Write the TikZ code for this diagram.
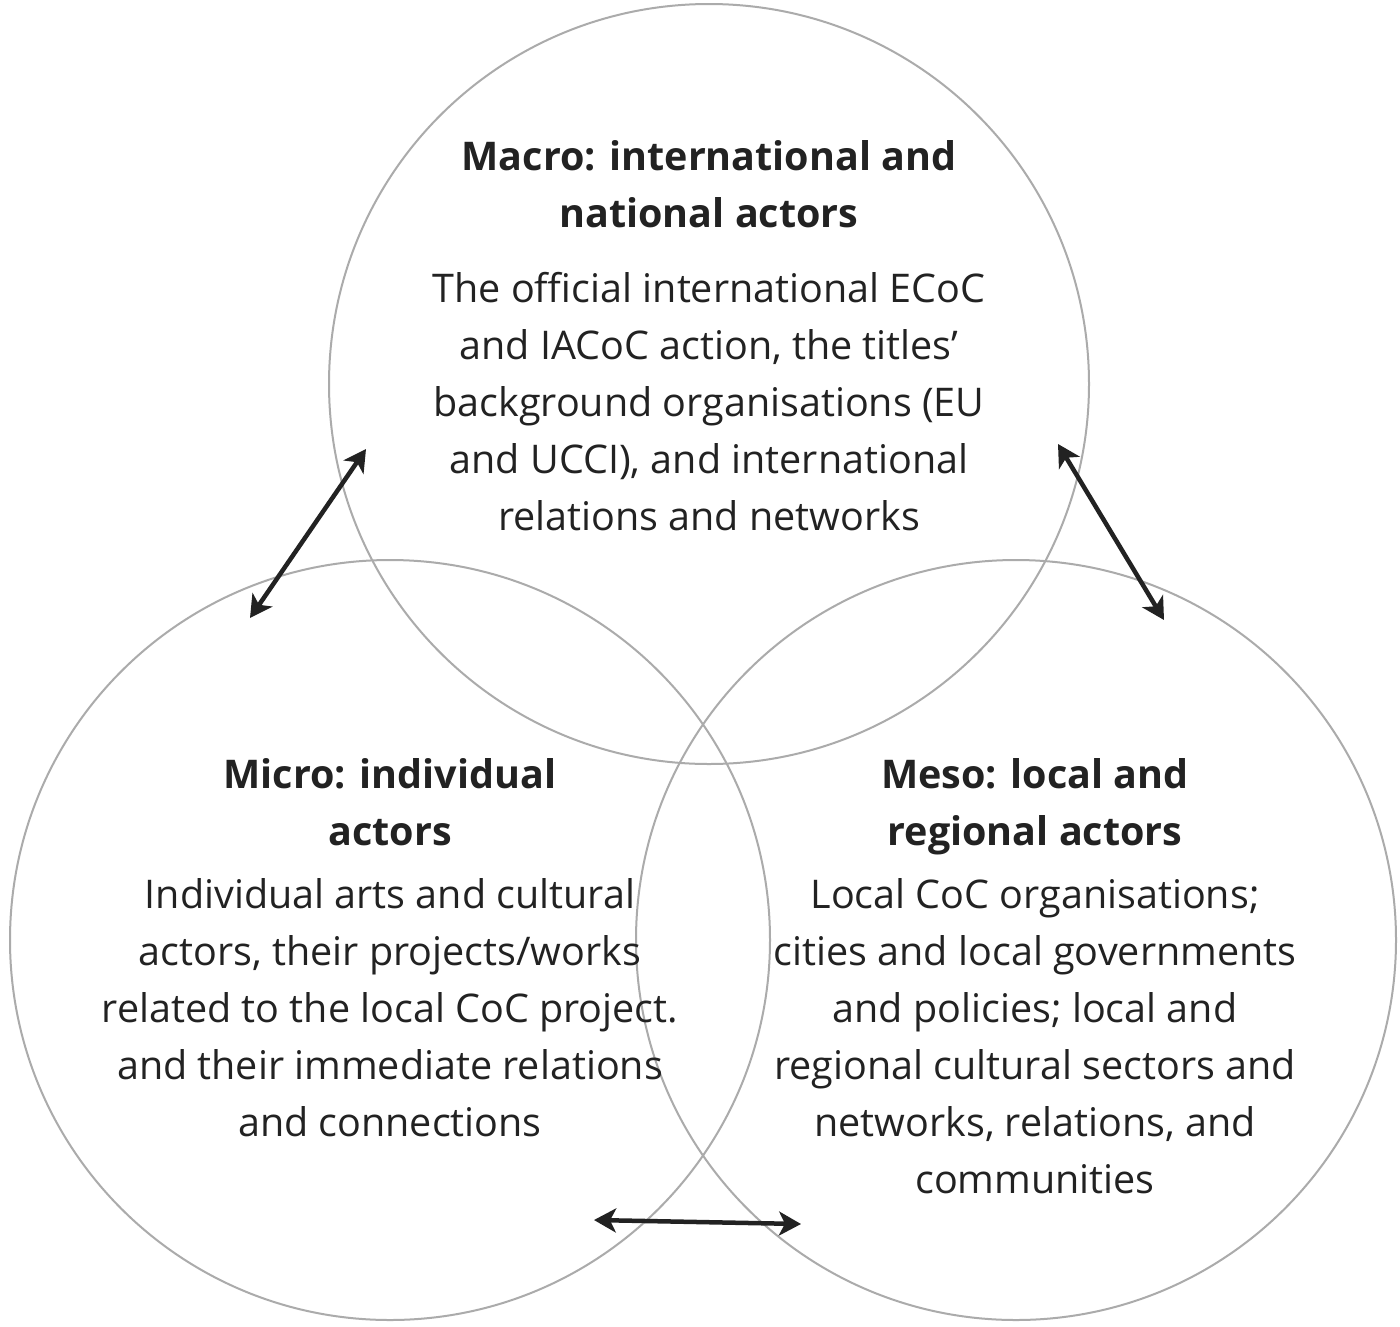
\documentclass[tikz,border=0pt]{standalone}
\usepackage{fontspec}
\setmainfont{Open Sans}
\usetikzlibrary{arrows.meta}
\definecolor{ring}{HTML}{ABABAB}
\definecolor{ink}{HTML}{222222}
\tikzset{
  ringstyle/.style={draw=ring, line width=2pt},
  title/.style={text=ink, align=center, anchor=base, inner sep=0pt, font=\fontsize{39.5}{57}\selectfont\bfseries},
  body/.style={text=ink, align=center, anchor=base, inner sep=0pt, font=\fontsize{39.5}{57}\selectfont},
  link/.style={draw=ink, line width=4.5pt, {Stealth[length=22pt,width=24pt,inset=6pt]}-{Stealth[length=22pt,width=24pt,inset=6pt]}}
}
\begin{document}
\begin{tikzpicture}[x=1pt,y=-1pt]
\useasboundingbox (0,0) rectangle (1400,1326);
\fill[white] (0,0) rectangle (1400,1326);
\draw[ringstyle] (709,384) circle (380);
\draw[ringstyle] (390,940) circle (380);
\draw[ringstyle] (1016,940) circle (380);

% anchor=base of a multi-line node is the baseline of its last line
\node[title] (macroT) at (709,227) {Macro: international and\\national actors};
\node[body] (macroB) at (709,530) {The official international ECoC\\and IACoC action, the titles’\\background organisations (EU\\and UCCI), and international\\relations and networks};

\node[title] (microT) at (390,845) {Micro: individual\\actors};
\node[body] (microB) at (390,1136) {Individual arts and cultural\\actors, their projects/works\\related to the local CoC project.\\and their immediate relations\\and connections};

\node[title] (mesoT) at (1035,845) {Meso: local and\\regional actors};
\node[body] (mesoB) at (1035,1193) {Local CoC organisations;\\cities and local governments\\and policies; local and\\regional cultural sectors and\\networks, relations, and\\communities};

\coordinate (a1s) at (250,618);
\coordinate (a1e) at (366,449);
\coordinate (a2s) at (1058,444);
\coordinate (a2e) at (1164,620);
\coordinate (a3s) at (594,1220);
\coordinate (a3e) at (801,1224);
\draw[link] (a1s) -- (a1e);
\draw[link] (a2s) -- (a2e);
\draw[link] (a3s) -- (a3e);
\end{tikzpicture}
\end{document}
